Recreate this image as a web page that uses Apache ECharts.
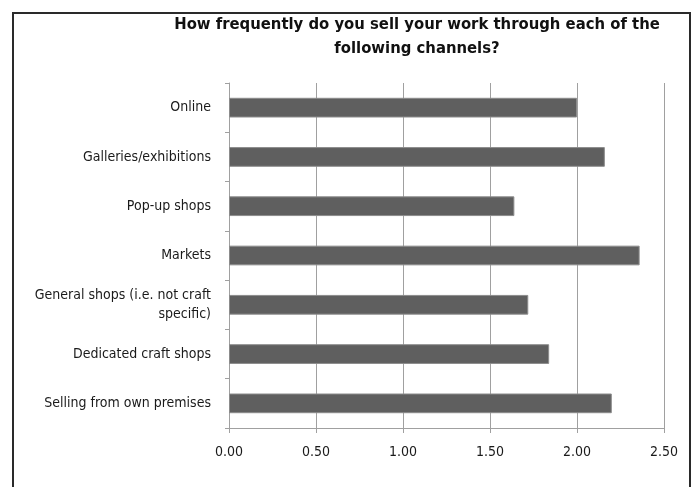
<!DOCTYPE html>
<html>
<head>
<meta charset="utf-8">
<script src="https://cdn.jsdelivr.net/npm/echarts@6/dist/echarts.min.js"></script>
<style>
html,body{margin:0;padding:0;background:#fff;}
#chart{width:696px;height:487px;}
</style>
</head>
<body>
<div id="chart"></div>
<script>
var categories = ["Online", "Galleries/exhibitions", "Pop-up shops", "Markets", "General shops (i.e. not craft specific)", "Dedicated craft shops", "Selling from own premises"];
var values = [2.00, 2.16, 1.64, 2.36, 1.72, 1.84, 2.20];
var xTicks = [0, 0.5, 1.0, 1.5, 2.0, 2.5];
var titleText = "How frequently do you sell your work through each of the\nfollowing channels?";

var FONT = "'Liberation Sans Narrow', 'DejaVu Sans Condensed', 'Roboto Condensed', sans-serif";
var chart = echarts.init(document.getElementById('chart'), null, {renderer: 'canvas'});
chart.setOption({
  backgroundColor: '#fff',
  animation: false,
  title: {
    text: titleText,
    left: 412, top: 8, textAlign: 'center',
    textStyle: {fontFamily: FONT, fontWeight: 'bold', fontSize: 16.5, color: '#111', lineHeight: 24}
  },
  graphic: [{
    type: 'rect', shape: {x: 13, y: 13, width: 677, height: 520},
    style: {fill: 'none', stroke: '#2a2a2a', lineWidth: 2}, silent: true, z: 100
  }],
  grid: {left: 229, right: 32, top: 83, bottom: 59, containLabel: false},
  xAxis: {
    type: 'value', min: xTicks[0], max: xTicks[xTicks.length - 1], interval: 0.5,
    axisLine: {show: true, lineStyle: {color: '#a0a0a0', width: 1}},
    axisTick: {show: true, length: 5, lineStyle: {color: '#a0a0a0'}},
    splitLine: {show: true, lineStyle: {color: '#a0a0a0', width: 1}},
    axisLabel: {fontFamily: FONT, fontSize: 14, color: '#1a1a1a', margin: 17,
      formatter: function (v) { return v.toFixed(2); }}
  },
  yAxis: {
    type: 'category', data: categories, inverse: true,
    axisLine: {show: true, lineStyle: {color: '#a0a0a0', width: 1}},
    axisTick: {show: true, length: 4, lineStyle: {color: '#a0a0a0'}},
    axisLabel: {fontFamily: FONT, fontSize: 14, color: '#1a1a1a', margin: 18, lineHeight: 19,
      formatter: function (v) {
        return v === "General shops (i.e. not craft specific)" ? "General shops (i.e. not craft\nspecific)" : v;
      }}
  },
  series: [{
    type: 'bar', data: values, barWidth: '40%',
    itemStyle: {color: '#5f5f5f', borderColor: '#8c8c8c', borderWidth: 1}
  }]
});
</script>
</body>
</html>
